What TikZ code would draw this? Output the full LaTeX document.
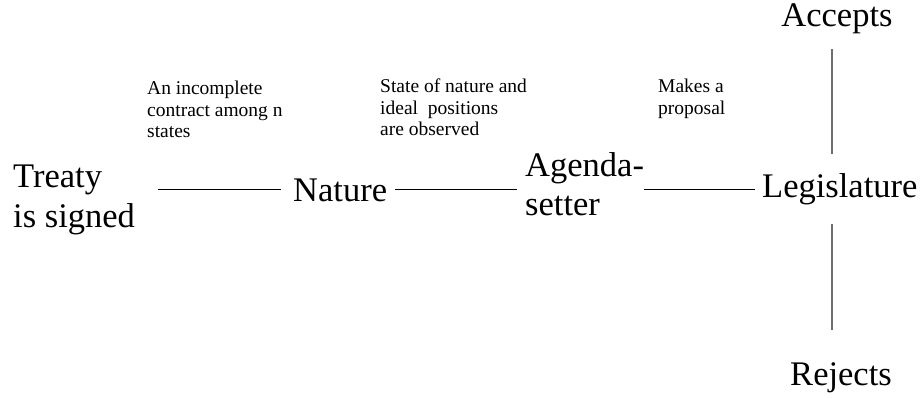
\documentclass[tikz,border=0pt]{standalone}
\usepackage{fontspec}
\setmainfont{Liberation Serif}
\usetikzlibrary{positioning}

\begin{document}
\begin{tikzpicture}[x=1pt,y=-1pt]
      \tikzstyle{stage}=[inner sep=0pt,font=\fontsize{34.5}{39.5}\selectfont,align=left];
      \tikzstyle{note}=[inner sep=0pt,anchor=north west,font=\fontsize{19.5}{21.5}\selectfont,align=left];
      \tikzstyle{link}=[line width=1.1pt,black];
      \tikzstyle{branch}=[line width=1.4pt,black!57];
      \useasboundingbox (0,0) rectangle (923,398);

      \node[stage,anchor=north west] (treaty) at (13,165) {Treaty\\is signed};
      \node[stage,anchor=base west] (nature) at (293,201) {Nature};
      \node[stage,anchor=north west] (agenda) at (525,152) {Agenda-\\setter};
      \node[stage,anchor=base west] (legis) at (762,197) {Legislature};
      \node[stage,anchor=base] (accepts) at (837,27) {Accepts};
      \node[stage,anchor=base] (rejects) at (841,385) {Rejects};

      \node[note] (contract) at (147,81) {An incomplete\\contract among n\\states};
      \node[note] (observed) at (380,79) {State of nature and\\ideal\ \ positions\\are observed};
      \node[note] (proposal) at (658,79) {Makes a\\proposal};

      \draw[link] ([xshift=23pt]treaty.east |- nature.center) -- ([xshift=-12pt]nature.west);
      \draw[link] ([xshift=8pt]nature.east) -- ([xshift=-8pt]agenda.west |- nature.center);
      \draw[link] (agenda.east |- nature.center) -- ([xshift=-7pt]legis.west |- nature.center);
      \draw[branch] ([xshift=-5pt,yshift=-14.5pt]accepts.south) -- ([xshift=-5pt,yshift=19pt]accepts.south |- legis.north);
      \draw[branch] ([xshift=-9pt,yshift=-19.5pt]rejects.north |- legis.south) -- ([xshift=-9pt,yshift=32pt]rejects.north);
    \end{tikzpicture}
\end{document}
